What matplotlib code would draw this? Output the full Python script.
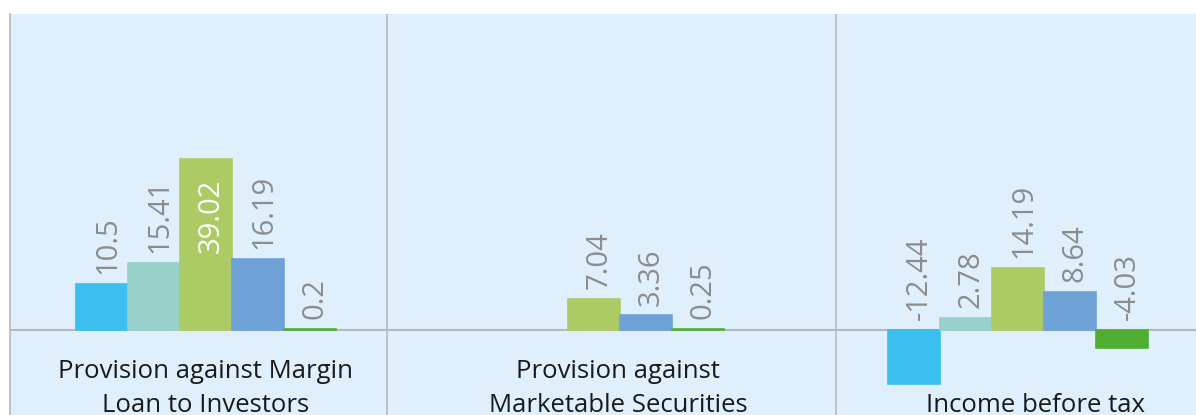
import numpy as np
import matplotlib.pyplot as plt

plt.rcParams['font.family'] = ['Open Sans', 'DejaVu Sans']

# data
categories = ["Provision against Margin\nLoan to Investors",
              "Provision against\nMarketable Securities",
              "Income before tax"]
s1 = [10.5, np.nan, -12.44]
s2 = [15.41, np.nan, 2.78]
s3 = [39.02, 7.04, 14.19]
s4 = [16.19, 3.36, 8.64]
s5 = [0.2, 0.25, -4.03]
series = [s1, s2, s3, s4, s5]

colors = ['#3bbfef', '#98d1c9', '#accb64', '#6ea2d6', '#4fae32']
bg = '#dff0fc'
grid_c = '#b5b9bd'

# layout (group spacing as unit)
group_x = np.array([0.0, 1.0, 2.093])
label_x = [0.0, 1.062, 2.139]
separators = [0.466, 1.624]
bw = 0.134

fig = plt.figure(figsize=(11.96, 4.15), dpi=100)
ax = fig.add_axes([10 / 1196, 0, 1 - 10 / 1196, 401 / 415])
ax.set_facecolor(bg)
ax.set_xlim(-0.505, 2.552)
ax.set_ylim(-19.41, 72.15)

for i, (vals, c) in enumerate(zip(series, colors)):
    xs = group_x + (i - 2) * bw
    for x, v in zip(xs, vals):
        if np.isnan(v):
            continue
        ax.bar(x, v, width=bw, color=c, edgecolor=c, linewidth=1.2, zorder=3)
        if v > 30:
            ax.annotate(f'{v:g}', (x, v), xytext=(4, -14), textcoords='offset points',
                        rotation=90, ha='center', va='top', fontsize=21, color='white', zorder=4)
        else:
            ax.annotate(f'{v:g}', (x, max(v, 0)), xytext=(4, 7), textcoords='offset points',
                        rotation=90, ha='center', va='bottom', fontsize=21, color='#8c8c8c', zorder=4)

ax.axhline(0, color=grid_c, lw=1.5, zorder=2)
for s in separators:
    ax.axvline(s, color=grid_c, lw=1.2, zorder=2)

for x, lab in zip(label_x, categories):
    ax.text(x, -20.1, lab, ha='center', va='bottom', fontsize=18.5,
            color='#1a1a1a', linespacing=1.45)

ax.set_xticks([])
ax.set_yticks([])
for side in ['top', 'right', 'bottom']:
    ax.spines[side].set_visible(False)
ax.spines['left'].set_color(grid_c)
ax.spines['left'].set_linewidth(1.2)

fig.savefig('out.png', dpi=100, facecolor='white')
